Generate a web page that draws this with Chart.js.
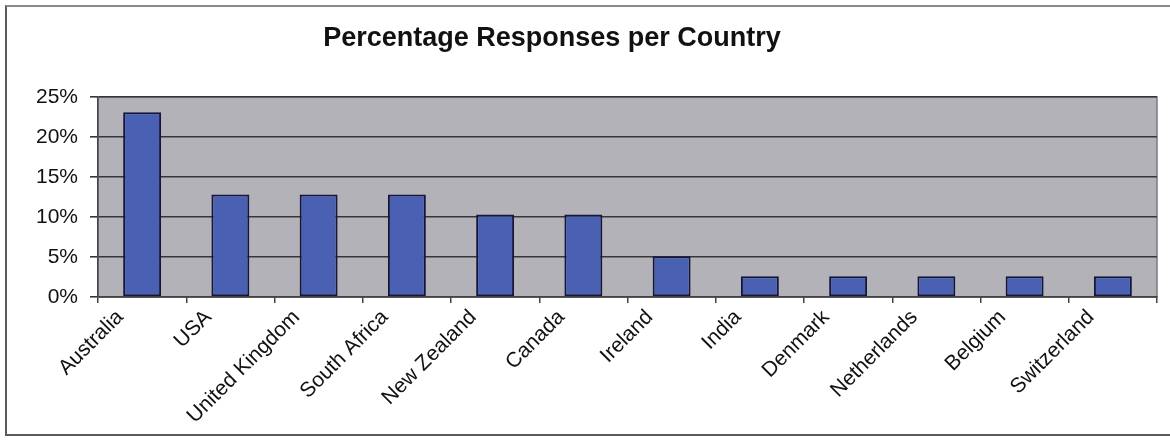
<!DOCTYPE html>
<html>
<head>
<meta charset="utf-8">
<script src="https://cdn.jsdelivr.net/npm/chart.js@4.4.1/dist/chart.umd.min.js"></script>
<style>
  html, body { margin: 0; padding: 0; background: #fff; overflow: hidden; }
  #wrap { position: relative; width: 1170px; height: 442px; overflow: hidden; }
  #frame {
    position: absolute; left: 5px; top: 5px; width: 1190px; height: 431px;
    border: 2px solid #5a5a5a; border-top-color: #8a8a8a; box-sizing: border-box;
  }
  #chart { position: absolute; left: 0; top: 0; }
</style>
</head>
<body>
<div id="wrap">
  <div id="frame"></div>
  <canvas id="chart" width="1170" height="442"></canvas>
</div>
<script>
const countries = ['Australia', 'USA', 'United Kingdom', 'South Africa', 'New Zealand', 'Canada',
  'Ireland', 'India', 'Denmark', 'Netherlands', 'Belgium', 'Switzerland'];
const responsePct = [23.1, 12.8, 12.8, 12.8, 10.3, 10.3, 5.1, 2.6, 2.6, 2.6, 2.6, 2.6];
const yTicks = [0, 5, 10, 15, 20, 25];
const chartTitle = 'Percentage Responses per Country';

const FONT = '"Liberation Sans", Arial, sans-serif';

// grey plot area with a thin outline, drawn under the bars
const plotBackground = {
  id: 'plotBackground',
  beforeDraw(chart) {
    const { ctx, chartArea: a } = chart;
    ctx.save();
    ctx.fillStyle = '#b2b2b8';
    ctx.fillRect(a.left, a.top, a.right - a.left, a.bottom - a.top);
    ctx.strokeStyle = '#7a7a80';
    ctx.lineWidth = 1.5;
    ctx.strokeRect(a.left, a.top, a.right - a.left, a.bottom - a.top);
    ctx.restore();
  }
};

// title sits a little left of the canvas centre
const headline = {
  id: 'headline',
  afterDraw(chart) {
    const ctx = chart.ctx;
    ctx.save();
    ctx.font = 'bold 27px ' + FONT;
    ctx.fillStyle = '#111';
    ctx.textAlign = 'center';
    ctx.textBaseline = 'middle';
    ctx.fillText(chartTitle, 552, 39);
    ctx.restore();
  }
};

new Chart(document.getElementById('chart').getContext('2d'), {
  type: 'bar',
  data: {
    labels: countries,
    datasets: [{
      data: responsePct,
      backgroundColor: '#4a60b2',
      borderColor: '#15163a',
      borderWidth: 2,
      borderSkipped: false,
      categoryPercentage: 1,
      barPercentage: 0.43
    }]
  },
  options: {
    responsive: false,
    animation: false,
    layout: { padding: { top: 97, right: 13, left: 0, bottom: 0 } },
    plugins: {
      legend: { display: false },
      tooltip: { enabled: false }
    },
    scales: {
      x: {
        afterFit: s => { s.height = 145; },
        grid: { drawOnChartArea: false, tickLength: 6, color: '#444', lineWidth: 1.5, offset: true },
        border: { color: '#444', width: 1.5 },
        ticks: {
          color: '#111',
          font: { family: FONT, size: 21 },
          minRotation: 45,
          maxRotation: 45,
          labelOffset: -22,
          padding: 2
        }
      },
      y: {
        min: 0,
        max: 25,
        afterFit: s => { s.width = 98; },
        afterBuildTicks: s => { s.ticks = yTicks.map(v => ({ value: v })); },
        grid: { color: '#363636', lineWidth: 1.6, tickLength: 8 },
        border: { color: '#444', width: 1.5 },
        ticks: {
          color: '#111',
          font: { family: FONT, size: 21 },
          padding: 12,
          callback: v => v + '%'
        }
      }
    }
  },
  plugins: [plotBackground, headline]
});
</script>
</body>
</html>
